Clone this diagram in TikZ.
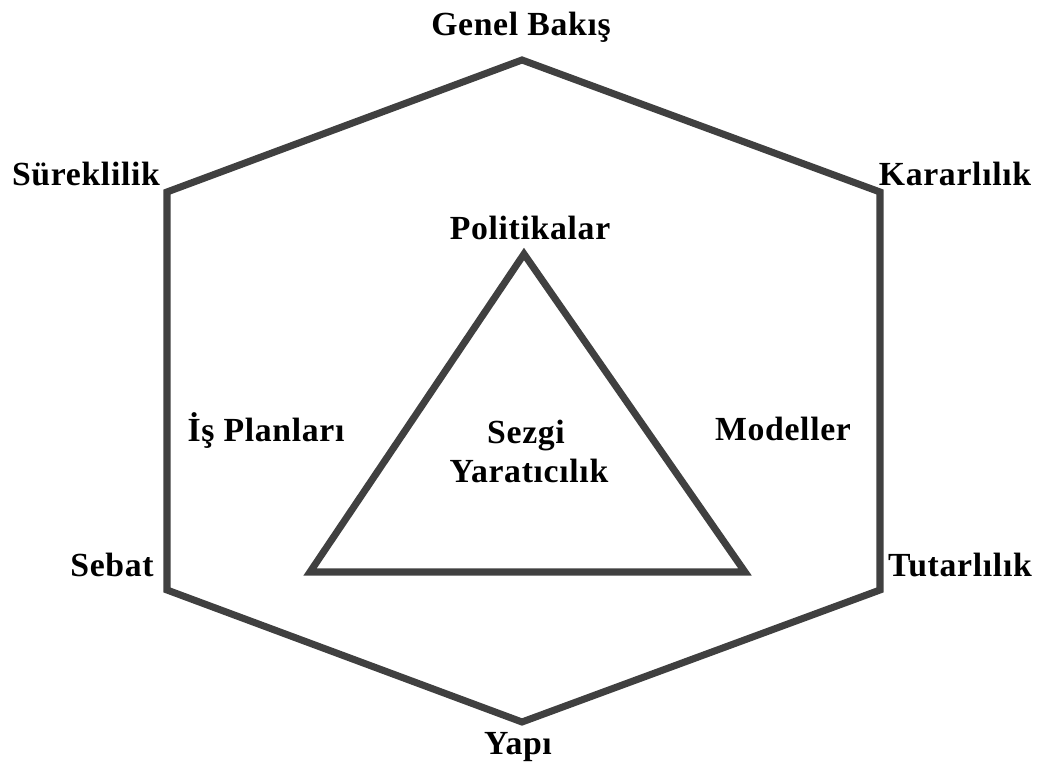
\documentclass[tikz,border=0pt]{standalone}
\usepackage{fontspec}
\setmainfont{Liberation Serif}[LetterSpace=2]
\usepackage{tkz-euclide}
\definecolor{ShapeClr}{rgb}{0.25,0.25,0.25}
\tikzset{lbl/.style={anchor=base,font=\fontsize{19.2}{22}\selectfont\bfseries}}

\begin{document}
\begin{tikzpicture}
\useasboundingbox (0,0) rectangle (20.9,15.3);
\tkzSetUpLine[line width=4pt,color=ShapeClr]

\tkzDefPoints{10.44/14.1/T,3.34/11.46/UL,17.6/11.46/UR,3.34/3.5/LL,17.6/3.5/LR,10.44/0.86/B}
\tkzDefPoints{10.48/10.22/P,6.2/3.86/Q,14.9/3.86/R}

\tkzDrawPolygon[line join=miter](T,UR,LR,B,LL,UL)
\tkzDrawPolygon[line join=miter](P,Q,R)

% outer labels
\node[lbl] (genel) at (10.42,14.58) {Genel Bakış};
\node[lbl] (surek) at (1.72,11.58) {Süreklilik};
\node[lbl] (karar) at (19.1,11.58) {Kararlılık};
\node[lbl] (sebat) at (2.24,3.76) {Sebat};
\node[lbl] (tutar) at (19.2,3.76) {Tutarlılık};
\node[lbl] (yapi) at (10.36,0.22) {Yapı};

% inner labels
\node[lbl] (polit) at (10.6,10.5) {Politikalar};
\node[lbl] (isplan) at (5.32,6.46) {İş Planları};
\node[lbl] (model) at (15.66,6.48) {Modeller};
\node[lbl] (sezgi) at (10.52,6.42) {Sezgi};
\node[lbl] (yarat) at (10.58,5.64) {Yaratıcılık};

\end{tikzpicture}
\end{document}
